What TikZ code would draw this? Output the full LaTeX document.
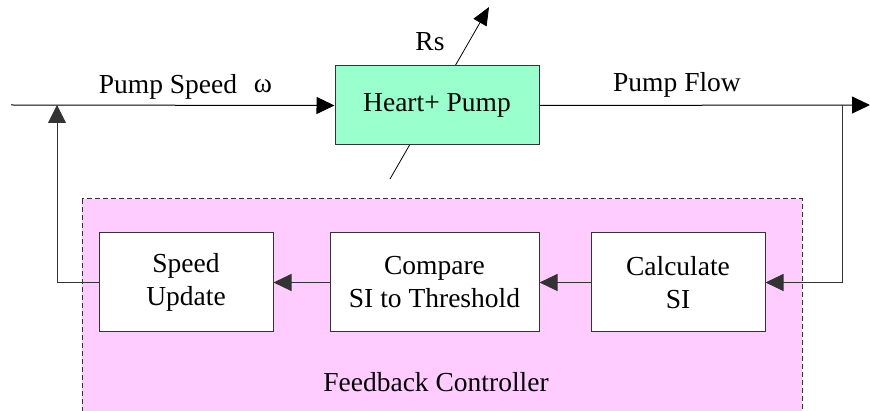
\documentclass[tikz,border=0pt]{standalone}
\usepackage{fontspec}
\setmainfont{LiberationSerif}[Extension=.ttf,UprightFont=*-Regular]
\usetikzlibrary{arrows.meta,calc}
\definecolor{pumpgreen}{HTML}{99FFCC}
\definecolor{ctrlpink}{HTML}{FFCCFF}
\definecolor{edge}{HTML}{333333}
\begin{document}
\begin{tikzpicture}[x=1pt,y=-1pt,
  font=\fontsize{27.5}{33}\selectfont,
  block/.style={draw=edge,line width=1pt,fill=white,align=center,inner sep=0pt,
    minimum width=174pt,minimum height=99pt},
  conn/.style={draw=black,line width=1pt,-{Triangle[length=18pt,width=17pt]}},
  wire/.style={draw=edge,line width=1pt},
  lbl/.style={inner sep=0pt}]
\useasboundingbox (0,0) rectangle (870,411);
\clip (0,0) rectangle (870,411);
% controller background
\draw[fill=ctrlpink,draw=edge,dashed,dash pattern=on 5pt off 3pt,line width=1pt]
  (82,199) rectangle (802,420);
\node[lbl] (fc) at (436,382) {Feedback Controller};
% Rs arrow (behind the pump box)
\coordinate (rsa) at (390,179);
\coordinate (rsb) at (489,7);
\draw[line width=0.8pt,-{Triangle[length=18pt,width=15pt]}] (rsa) -- (rsb);
% pump
\node[draw=edge,line width=1pt,fill=pumpgreen,minimum width=204pt,minimum height=79pt,inner sep=0pt]
  (heart) at (437,105.5) {Heart+ Pump};
\node[lbl] (rs) at (430,42) {Rs};
% blocks
\node[block] (speed) at (186,282.5) {Speed\\Update};
\node[block,minimum width=209pt] (cmp) at (434.5,282.5) {Compare\\SI to Threshold};
\node[block] (calc) at (678,282.5) {Calculate\\SI};
% signals
\coordinate (in) at (11,105);
\coordinate (out) at (870,105);
\coordinate (tap) at (842,105);
\coordinate (sum) at (57,105);
\draw[conn] (in) -- (heart.west);
\draw[conn] (heart.east) -- (out);
\draw[wire,-{Triangle[length=18pt,width=17pt]},draw=edge] (tap) |- (calc.east);
\draw[conn,draw=edge] (calc.west) -- (cmp.east);
\draw[conn,draw=edge] (cmp.west) -- (speed.east);
\draw[wire,-{Triangle[length=18pt,width=18pt]}] (speed.west) -| (sum);
% labels
\node[lbl] (ps) at (168,87) {Pump Speed};
\node[lbl] (om) at (263,86) {ω};
\node[lbl] (pf) at (677,85) {Pump Flow};
\end{tikzpicture}
\end{document}
